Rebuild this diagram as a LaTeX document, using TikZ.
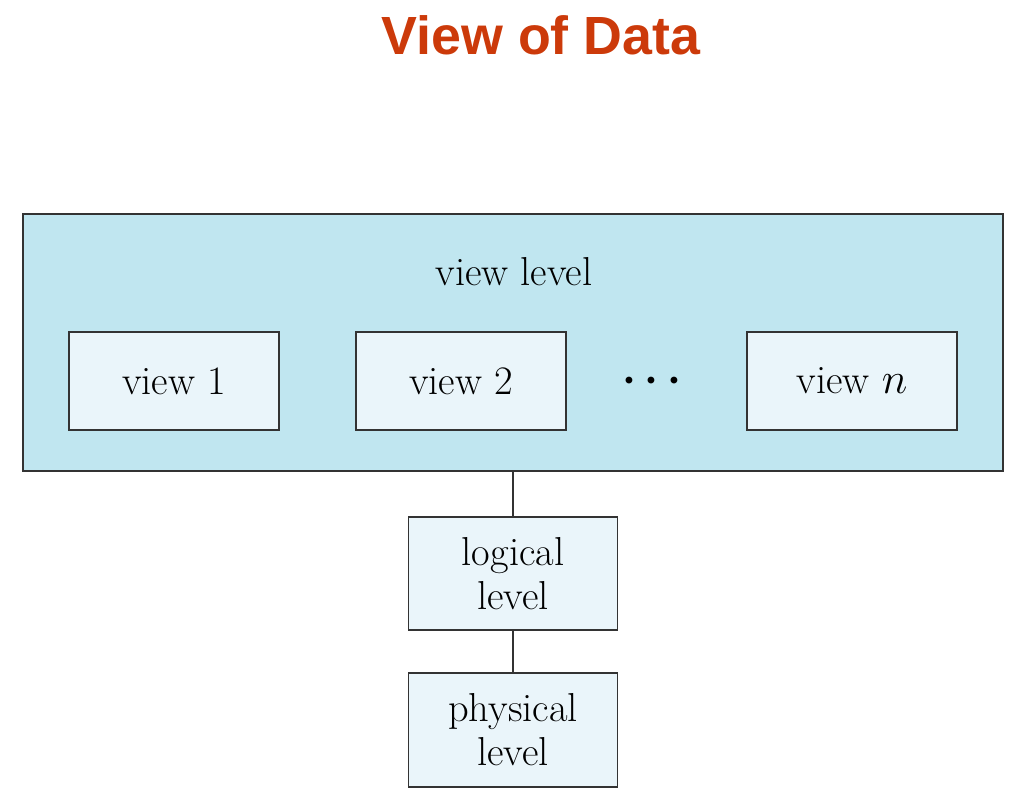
\documentclass[tikz,border=0pt]{standalone}
\usepackage{amsmath,amssymb}
\usepackage{fontspec}
\newfontfamily\titlefont{Liberation Sans}
\usepackage{tikz}
\usetikzlibrary{positioning}
\definecolor{titlered}{HTML}{CC3A0A}
\definecolor{outerblue}{HTML}{C0E6F0}
\definecolor{innerblue}{HTML}{EAF5FA}
\definecolor{edgegray}{HTML}{333333}
\tikzset{
    levelbox/.style={draw=edgegray, line width=1.1pt, fill=innerblue, align=center,
        font=\fontsize{23}{25}\selectfont},
    link/.style={draw=edgegray, line width=1.1pt}
}

\begin{document}
\begin{tikzpicture}[x=0.02cm, y=-0.02cm]
    \useasboundingbox (0,0) rectangle (1030,805);
    % Title
    \node (title) at (541,35) {\titlefont\bfseries\fontsize{30.6}{36}\selectfont\color{titlered} View of Data};

    % View level
    \node[draw=edgegray, line width=1.1pt, fill=outerblue, minimum width=19.6cm, minimum height=5.14cm] (outer) at (513,342.5) {};
    \node[font=\fontsize{23}{25}\selectfont] (vlabel) at (514,272) {view level};
    \node[levelbox, minimum width=4.2cm, minimum height=1.96cm] (view1) at (174,381) {view 1};
    \node[levelbox, minimum width=4.2cm, minimum height=1.96cm] (view2) at (461,381) {view 2};
    \node[font=\fontsize{24}{26}\selectfont] (dots) at (656,381) {$\boldsymbol{\cdots}$};
    \node[levelbox, minimum width=4.2cm, minimum height=1.96cm] (viewn) at (852,381) {view $n$};

    % Lower levels
    \node[levelbox, minimum width=4.18cm, minimum height=2.26cm] (logical) at (513,573.5) {logical\\level};
    \node[levelbox, minimum width=4.18cm, minimum height=2.28cm] (physical) at (513,730) {physical\\level};

    \draw[link] (outer.south) -- (logical.north);
    \draw[link] (logical.south) -- (physical.north);
\end{tikzpicture}
\end{document}
